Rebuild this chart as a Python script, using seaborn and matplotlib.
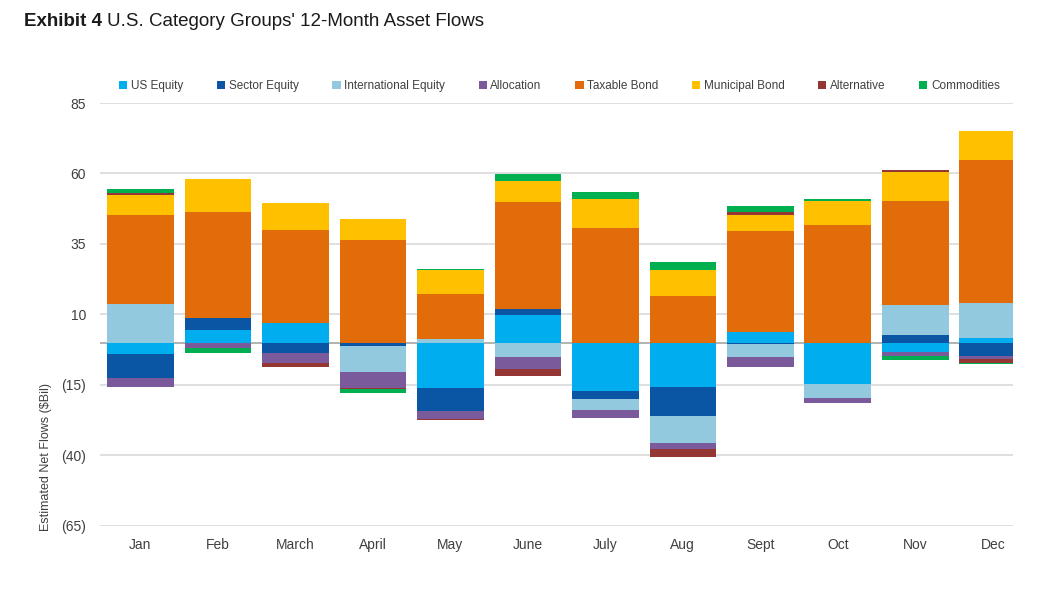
import numpy as np
import pandas as pd
import matplotlib.pyplot as plt
import seaborn as sb
from matplotlib.patches import Patch

sb.set_style('white')
plt.rcParams['font.family'] = ['Liberation Sans', 'DejaVu Sans']

# dati nolasiti no attela ($Bil)
menesi = ['Jan', 'Feb', 'March', 'April', 'May', 'June', 'July', 'Aug', 'Sept', 'Oct', 'Nov', 'Dec']
us_equity = [-4.1, 4.6, 6.8, 0.0, -16.0, 9.9, -17.1, -15.9, 3.6, -14.8, -3.2, 1.6]
sector_equity = [-8.6, 4.2, -3.6, -1.4, -8.3, 2.1, -3.1, -10.2, -0.5, 0.0, 2.7, -4.6]
international_equity = [13.8, 0.0, 0.0, -9.1, 1.3, -5.0, -3.8, -9.5, -4.8, -5.0, 10.5, 12.5]
allocation = [-3.0, -2.1, -3.5, -5.7, -2.7, -4.5, -2.6, -2.1, -3.2, -1.6, -1.4, -1.2]
taxable_bond = [31.3, 37.7, 33.1, 36.5, 15.8, 37.8, 40.6, 16.4, 35.9, 41.8, 37.1, 50.5]
municipal_bond = [7.3, 11.4, 9.6, 7.4, 8.8, 7.4, 10.4, 9.2, 5.9, 8.5, 10.2, 10.3]
alternative = [0.6, 0.0, -1.4, -0.4, -0.6, -2.3, 0.0, -2.9, 0.9, 0.0, 0.7, -1.3]
commodities = [1.6, -1.7, -0.3, -1.4, 0.3, 2.6, 2.4, 2.9, 2.1, 0.5, -1.6, -0.4]

serijas = ['US Equity', 'Sector Equity', 'International Equity', 'Allocation',
           'Taxable Bond', 'Municipal Bond', 'Alternative', 'Commodities']
vertibas = [us_equity, sector_equity, international_equity, allocation,
            taxable_bond, municipal_bond, alternative, commodities]
krasas = ['#00AEEF', '#0B56A4', '#92C9DF', '#7A5A9A',
          '#E36C0A', '#FFC000', '#943634', '#00B050']

fig = plt.figure(figsize=(10.4, 6.02), dpi=100)
ax = fig.add_axes([0.0962, 0.1267, 0.8778, 0.7022])

# sakrautie stabini: pozitivie uz augsu, negativie uz leju
poz = np.zeros(len(menesi))
neg = np.zeros(len(menesi))
for nosaukums, vert, krasa in zip(serijas, vertibas, krasas):
    v = np.array(vert)
    apaksa = np.where(v >= 0, poz, neg)
    df = pd.DataFrame({'menesis': menesi, 'vertiba': v})
    sb.barplot(data=df, x='menesis', y='vertiba', bottom=apaksa, color=krasa,
               saturation=1, width=0.86, errorbar=None, linewidth=0,
               edgecolor='none', ax=ax, zorder=3)
    poz += np.clip(v, 0, None)
    neg += np.clip(v, None, 0)

ax.set_xlim(-0.52, 11.26)
ax.set_ylim(-65, 85)
ax.set_yticks([-65, -40, -15, 10, 35, 60, 85])
ax.set_yticklabels(['(65)', '(40)', '(15)', '10', '35', '60', '85'])
for t in ax.get_yticklabels():
    t.set_color('#C0182E' if t.get_text().startswith('(') else '#404040')
ax.yaxis.grid(True, color='#D9D9D9', linewidth=1.2)
ax.axhline(0, color='#A6A6A6', linewidth=1.2, zorder=1)
ax.set_axisbelow(True)
for s in ax.spines.values():
    s.set_visible(False)
ax.tick_params(axis='both', length=0, labelsize=10, colors='#404040')
ax.tick_params(axis='x', pad=9)
ax.tick_params(axis='y', pad=10)
ax.set_xlabel('')
ax.set_ylabel('')

fig.text(0.044, 0.241, 'Estimated Net Flows ($Bil)', rotation=90, ha='center',
         va='center', fontsize=9, color='#404040')

# virsraksts: treknais un parastais teksts viens aiz otra
t1 = fig.text(0.023, 0.965, 'Exhibit 4', fontsize=13.5, fontweight='bold',
              va='center', ha='left', color='#1a1a1a')
fig.canvas.draw()
bb = t1.get_window_extent(renderer=fig.canvas.get_renderer())
x2 = (bb.x1 + 5) / fig.bbox.width
fig.text(x2, 0.965, "U.S. Category Groups' 12-Month Asset Flows", fontsize=13.5,
         va='center', ha='left', color='#1a1a1a')

rokturi = [Patch(facecolor=k, edgecolor='none', label=n) for n, k in zip(serijas, krasas)]
fig.legend(handles=rokturi, loc='center', bbox_to_anchor=(0.538, 0.857), ncol=8,
           frameon=False, fontsize=8.5, handlelength=0.7, handleheight=0.7,
           handletextpad=0.3, columnspacing=2.85, labelcolor='#404040')

fig.savefig('out.png', dpi=100)
